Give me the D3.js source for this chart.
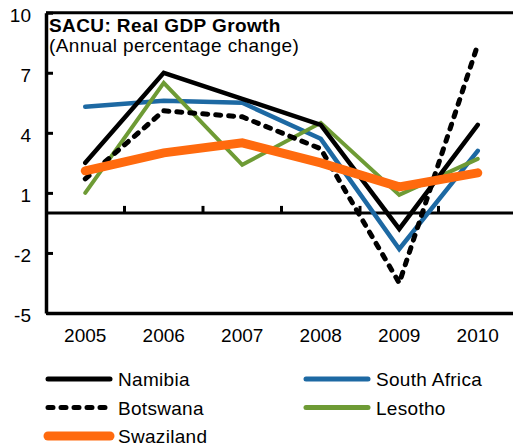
<!DOCTYPE html>
<html>
<head>
<meta charset="utf-8">
<script src="https://d3js.org/d3.v7.min.js"></script>
<style>
  body { margin: 0; background: #fff; }
  text { font-family: "Liberation Sans", Arial, sans-serif; fill: #000; }
</style>
</head>
<body>
<div id="chart"></div>
<script>
// data
var years = ["2005", "2006", "2007", "2008", "2009", "2010"];
var namibia = [2.5, 7.0, 5.7, 4.4, -0.8, 4.4];
var botswana = [1.7, 5.1, 4.8, 3.2, -3.5, 8.4];
var southAfrica = [5.3, 5.6, 5.5, 3.7, -1.8, 3.1];
var lesotho = [1.0, 6.5, 2.4, 4.5, 0.9, 2.7];
var swaziland = [2.1, 3.0, 3.5, 2.5, 1.3, 2.0];
var yTicks = [10, 7, 4, 1, -2, -5];

var svgWidth = 513;
var svgHeight = 448;

var margin = { top: 12.7, right: -4, bottom: 135, left: 46 };
var width = svgWidth - margin.left - margin.right;
var height = svgHeight - margin.top - margin.bottom;

var svg = d3.select("#chart")
  .append("svg")
  .attr("width", svgWidth)
  .attr("height", svgHeight);

var chartGroup = svg.append("g")
  .attr("transform", `translate(${margin.left}, ${margin.top})`);

var xScale = d3.scaleBand()
  .domain(years)
  .range([0, width]);

var yScale = d3.scaleLinear()
  .domain([-5, 10])
  .range([height, 0]);

// series, drawn in the order of the original (swaziland on top)
var series = [
  { name: "South Africa", values: southAfrica, color: "#1d69a3", width: 4.5, dash: null },
  { name: "Lesotho", values: lesotho, color: "#6e9b35", width: 4, dash: null },
  { name: "Botswana", values: botswana, color: "#000", width: 5, dash: "5,8" },
  { name: "Namibia", values: namibia, color: "#000", width: 4.5, dash: null },
  { name: "Swaziland", values: swaziland, color: "#ff6a0e", width: 9, dash: null }
];

// top border
chartGroup.append("line")
  .attr("x1", 0)
  .attr("x2", width)
  .attr("y1", 0)
  .attr("y2", 0)
  .attr("stroke", "#000")
  .attr("stroke-width", 3);

// zero line with ticks between the years
chartGroup.append("line")
  .attr("x1", 0)
  .attr("x2", width)
  .attr("y1", yScale(0))
  .attr("y2", yScale(0))
  .attr("stroke", "#000")
  .attr("stroke-width", 3);

chartGroup.selectAll(".zero-tick")
  .data(years.slice(1))
  .enter()
  .append("line")
  .classed("zero-tick", true)
  .attr("x1", d => xScale(d))
  .attr("x2", d => xScale(d))
  .attr("y1", yScale(0))
  .attr("y2", yScale(0) - 7)
  .attr("stroke", "#000")
  .attr("stroke-width", 3);

// y axis, ticks pointing into the plot
var leftAxis = d3.axisLeft(yScale)
  .tickValues(yTicks)
  .tickFormat(d => String(d))
  .tickSizeInner(-7)
  .tickSizeOuter(0)
  .tickPadding(15);

var yAxis = chartGroup.append("g")
  .call(leftAxis);

yAxis.select(".domain")
  .attr("stroke-width", 3.5);
yAxis.selectAll(".tick line")
  .attr("stroke-width", 3);
yAxis.selectAll(".tick text")
  .attr("dy", "0.45em")
  .style("font-size", "19px")
  .style("font-family", "Liberation Sans, Arial, sans-serif");

// x axis at the bottom
var bottomAxis = d3.axisBottom(xScale)
  .tickSize(0)
  .tickSizeOuter(0)
  .tickPadding(15);

var xAxis = chartGroup.append("g")
  .attr("transform", `translate(0, ${height})`)
  .call(bottomAxis);

xAxis.select(".domain")
  .attr("stroke-width", 3.5);
xAxis.selectAll(".tick text")
  .attr("dy", "0.75em")
  .style("font-size", "19px")
  .style("font-family", "Liberation Sans, Arial, sans-serif");

// lines
var lineGen = d3.line()
  .x((d, i) => xScale(years[i]) + xScale.bandwidth() / 2)
  .y(d => yScale(d));

chartGroup.selectAll(".series")
  .data(series)
  .enter()
  .append("path")
  .classed("series", true)
  .attr("d", d => lineGen(d.values))
  .attr("fill", "none")
  .attr("stroke", d => d.color)
  .attr("stroke-width", d => d.width)
  .attr("stroke-linecap", "round")
  .attr("stroke-linejoin", "miter")
  .attr("stroke-dasharray", d => d.dash);

// title
var title = svg.append("text")
  .attr("x", 49)
  .attr("y", 32)
  .style("font-size", "19px")
  .style("letter-spacing", "0.4px");
title.append("tspan")
  .style("font-weight", "bold")
  .text("SACU: Real GDP Growth");
title.append("tspan")
  .attr("x", 49)
  .attr("y", 52)
  .text("(Annual percentage change)");

// legend
var legendItems = [
  { name: "Namibia", col: 0, row: 0 },
  { name: "South Africa", col: 1, row: 0 },
  { name: "Botswana", col: 0, row: 1 },
  { name: "Lesotho", col: 1, row: 1 },
  { name: "Swaziland", col: 0, row: 2 }
];

var legend = svg.append("g")
  .selectAll("g")
  .data(legendItems)
  .enter()
  .append("g")
  .attr("transform", d => `translate(${d.col === 0 ? 48 : 306}, ${379 + d.row * 28.5})`);

legend.append("line")
  .attr("x1", 0)
  .attr("x2", 62)
  .attr("y1", 0)
  .attr("y2", 0)
  .each(function(d) {
    var s = series.find(e => e.name === d.name);
    d3.select(this)
      .attr("stroke", s.color)
      .attr("stroke-width", s.name === "Swaziland" ? 9 : 5)
      .attr("stroke-linecap", "round")
      .attr("stroke-dasharray", s.dash);
  });

legend.append("text")
  .attr("x", 70)
  .attr("y", 7)
  .style("font-size", "19px")
  .style("letter-spacing", "0.3px")
  .text(d => d.name);
</script>
</body>
</html>
